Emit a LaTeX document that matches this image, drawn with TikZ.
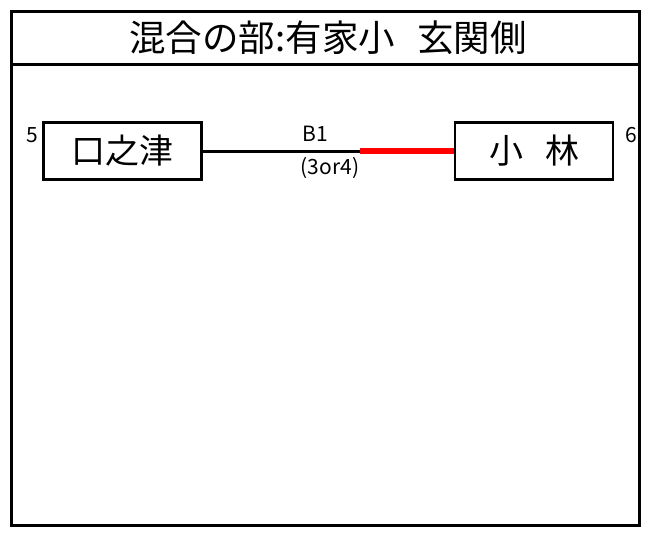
\documentclass[tikz,border=0pt]{standalone}
\usepackage{fontspec}
\setmainfont{Noto Sans CJK JP}
\begin{document}
\begin{tikzpicture}[x=1pt,y=-1pt,
  frame/.style={draw=black,line width=3pt},
  place/.style={draw=black,line width=2.5pt,minimum width=158pt,minimum height=57pt,inner sep=0pt,font=\fontsize{34}{35}\selectfont},
  num/.style={inner sep=0pt,font=\fontsize{21}{22}\selectfont},
  lbl/.style={inner sep=0pt,font=\fontsize{21}{22}\selectfont}]
\useasboundingbox (0,0) rectangle (649,536);
\fill[white] (0,0) rectangle (649,536);
\draw[frame] (11,11) rectangle (639,525);
\draw[frame] (11,64) -- (639,64);
\node[inner sep=0pt,font=\fontsize{36.5}{37}\selectfont] (title) at (328,38) {混合の部:有家小\hspace{22pt}玄関側};
\node[place] (a) at (122.5,151) {口之津};
\node[place] (b) at (534,151) {小\hspace{22pt}林};
\node[num] (n5) at (32,135) {5};
\node[num] (n6) at (631,135) {6};
\coordinate (mid) at (360,151);
\draw[line width=3pt] (a.east) -- (mid);
\draw[red,line width=6pt] (mid) -- (b.west);
\node[lbl] (b1) at (315,134) {B1};
\node[lbl] (c) at (330,168) {(3or4)};
\end{tikzpicture}
\end{document}
